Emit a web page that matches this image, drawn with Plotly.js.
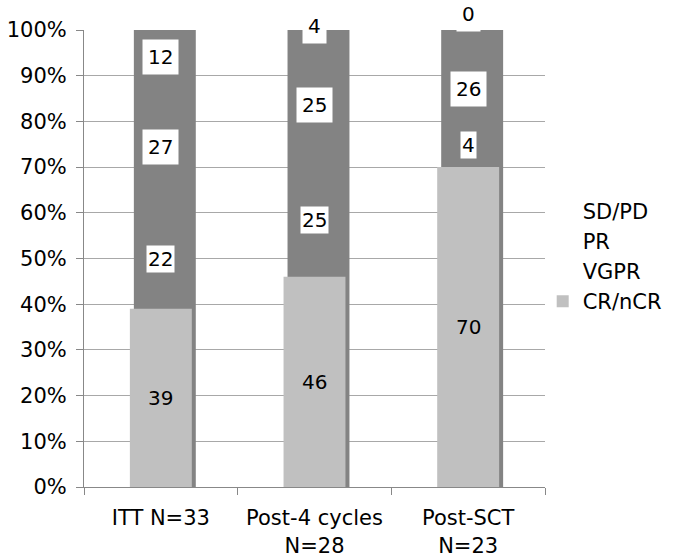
<!DOCTYPE html>
<html><head><meta charset="utf-8">
<script src="https://cdn.plot.ly/plotly-3.0.1.min.js"></script>
<style>html,body{margin:0;padding:0;background:#fff}</style>
</head><body>
<div id="chart" style="width:678px;height:560px"></div>
<script>
// ---- data ----
const categories = ['ITT N=33', 'Post-4 cycles<br>N=28', 'Post-SCT<br>N=23'];
const crNcr = [39, 46, 70];
const vgpr  = [22, 25, 4];
const pr    = [27, 25, 26];
const sdPd  = [12, 4, 0];
const yTickVals = [0, 10, 20, 30, 40, 50, 60, 70, 80, 90, 100];
const yTickText = ['0%', '10%', '20%', '30%', '40%', '50%', '60%', '70%', '80%', '90%', '100%'];

// ---- style ----
const LIGHT = '#c0c0c0', DARK = '#838383', CLEAR = 'rgba(0,0,0,0)';
const W = 0.403, SHIFT = 0.026;
const lightOffset = -W / 2, darkOffset = -W / 2 + SHIFT;

const totals = categories.map((_, i) => crNcr[i] + vgpr[i] + pr[i] + sdPd[i]);
const baseVgpr = crNcr.slice();
const basePr = crNcr.map((v, i) => v + vgpr[i]);
const baseSd = basePr.map((v, i) => v + pr[i]);

const traces = [
  { type: 'bar', x: categories, y: totals, width: W, offset: darkOffset,
    marker: { color: DARK }, showlegend: false, hoverinfo: 'skip' },
  { type: 'bar', name: 'CR/nCR', x: categories, y: crNcr, width: W, offset: lightOffset,
    marker: { color: LIGHT } },
  { type: 'bar', name: 'VGPR', x: categories, y: vgpr, base: baseVgpr, width: W, offset: darkOffset,
    marker: { color: CLEAR } },
  { type: 'bar', name: 'PR', x: categories, y: pr, base: basePr, width: W, offset: darkOffset,
    marker: { color: CLEAR } },
  { type: 'bar', name: 'SD/PD', x: categories, y: sdPd, base: baseSd, width: W, offset: darkOffset,
    marker: { color: CLEAR } }
];

const annotations = [];
function addLabels(vals, bases, boxed, pad) {
  vals.forEach((v, i) => {
    annotations.push({
      x: categories[i], y: bases[i] + v / 2, xref: 'x', yref: 'y',
      text: String(v), showarrow: false,
      yshift: (boxed && v < 5) ? 16 - 0.8 * v : 0,
      font: { size: 20, color: '#000', family: 'DejaVu Sans' },
      bgcolor: boxed ? '#ffffff' : CLEAR, borderpad: pad
    });
  });
}
addLabels(crNcr, [0, 0, 0], false, 1);
addLabels(vgpr, baseVgpr, true, 1);
addLabels(pr, basePr, true, 5);
addLabels(sdPd, baseSd, true, 5);

const layout = {
  width: 678, height: 560,
  paper_bgcolor: '#fff', plot_bgcolor: '#fff',
  barmode: 'overlay',
  margin: { l: 84, r: 133, t: 30, b: 73, autoexpand: false },
  font: { family: 'DejaVu Sans', color: '#000', size: 21 },
  xaxis: {
    type: 'category', tickson: 'boundaries', ticks: 'outside', ticklen: 7,
    tickcolor: '#888', showline: true, linecolor: '#888', linewidth: 1,
    showgrid: false, tickfont: { size: 21, color: '#000' }, ticklabelstandoff: 12
  },
  yaxis: {
    range: [0, 100], tickvals: yTickVals, ticktext: yTickText,
    ticks: 'outside', ticklen: 7, tickcolor: '#888',
    showline: true, linecolor: '#888', linewidth: 1,
    showgrid: true, gridcolor: '#a8a8a8', gridwidth: 1, zeroline: false,
    tickfont: { size: 21, color: '#000' }, ticklabelstandoff: 5
  },
  legend: {
    x: 0.995, xanchor: 'left', y: 0.505, yanchor: 'middle',
    traceorder: 'reversed', font: { size: 21, color: '#000' }, bgcolor: CLEAR
  },
  annotations: annotations,
  showlegend: true
};

Plotly.newPlot('chart', traces, layout, { displayModeBar: false, staticPlot: true });
</script>
</body></html>
